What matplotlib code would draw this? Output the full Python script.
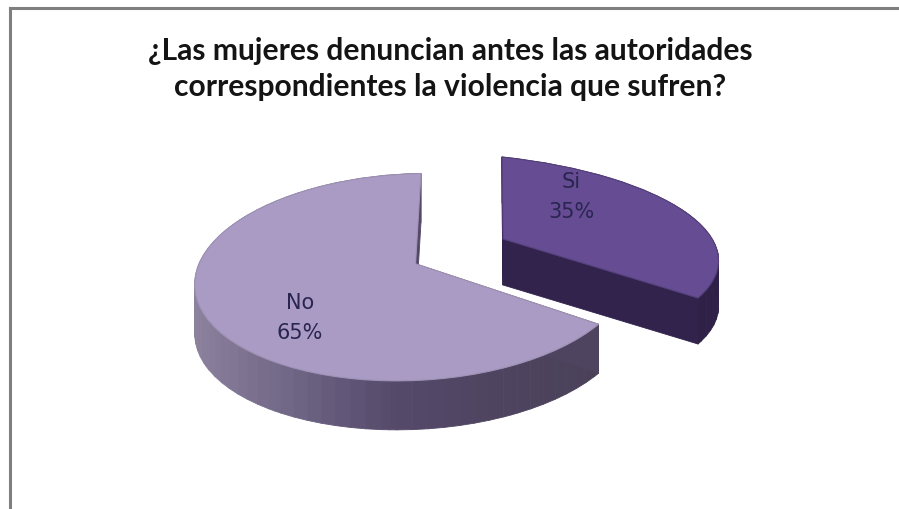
import matplotlib
matplotlib.use("Agg")
import matplotlib.pyplot as plt
from matplotlib.collections import PolyCollection
from matplotlib.colors import LinearSegmentedColormap
from matplotlib.transforms import Transform
import numpy as np

title = "¿Las mujeres denuncian antes las autoridades\ncorrespondientes la violencia que sufren?"
categories = ["Si", "No"]
values = [35, 65]


class Tilt(Transform):
    # pie disc -> picture pixels, through a homography
    input_dims = output_dims = 2

    def __init__(self, src, dst):
        super().__init__()
        rows, rhs = [], []
        for (x, y), (u, v) in zip(src, dst):
            rows.append([x, y, 1, 0, 0, 0, -u * x, -u * y])
            rows.append([0, 0, 0, x, y, 1, -v * x, -v * y])
            rhs += [u, v]
        sol = np.linalg.lstsq(np.array(rows, float), np.array(rhs, float), rcond=None)[0]
        self.h = np.append(sol, 1).reshape(3, 3)

    def transform_non_affine(self, pts):
        p = np.c_[pts, np.ones(len(pts))] @ self.h.T
        return p[:, :2] / p[:, 2:]


corner = (np.cos(np.radians(-36)), np.sin(np.radians(-36)))
tilt_si = Tilt([(0, 0), (0, 1), corner, (1, 0)],
               [(503, 240), (502, 158), (698, 299), (716, 248)])
# centre listed three times so the apex stays where it is in the picture
tilt_no = Tilt([(0, 0), (0, 0), (0, 0), (0, 1), (0, -1), corner, (-1, 0)],
               [(418, 263), (418, 263), (418, 263), (418, 175), (405, 380), (598, 329), (197, 272)])

fig = plt.figure(figsize=(8.99, 5.10), dpi=100, facecolor="white")
ax = fig.add_axes([0, 0, 1, 1])

wedges, _ = ax.pie(values, startangle=90, counterclock=False, colors=["#664c93", "#a99bc4"])
ax.set_aspect("auto")
ax.set_xlim(0, 899)
ax.set_ylim(510, 0)
ax.axis("off")

side_si = LinearSegmentedColormap.from_list("si", ["#2c1f45", "#33234e", "#2e2046"])
side_no = LinearSegmentedColormap.from_list("no", ["#8c829e", "#6e6484", "#55496a", "#4e4460", "#4a4159"])
rims = ["#54407c", "#9d92b4"]

for w, tilt, depth, cmap, zo, rim in [(wedges[1], tilt_no, 49, side_no, 2, rims[1]),
                                      (wedges[0], tilt_si, 46, side_si, 4, rims[0])]:
    w.set_transform(tilt + ax.transData)
    w.set_zorder(zo + 1)
    w.set_edgecolor(rim)
    w.set_linewidth(0.8)
    # flatten the wedge outline in pixels, then extrude it downwards
    verts = tilt.transform_path(w.get_path()).to_polygons(closed_only=False)[0]
    quads = [[a, b, b + [0, depth], a + [0, depth]] for a, b in zip(verts[:-1], verts[1:])]
    mids = (verts[:-1, 0] + verts[1:, 0]) / 2
    shade = (mids - mids.min()) / (mids.max() - mids.min())
    pc = PolyCollection(quads, array=shade, cmap=cmap, edgecolors="face", linewidths=0.6, zorder=zo)
    ax.add_collection(pc)

# frame of the chart area
ax.plot([10, 10], [510, 9], color="#7f7f7f", lw=2.2, solid_capstyle="projecting")
ax.plot([10, 899], [9, 9], color="#7f7f7f", lw=2.2, solid_capstyle="projecting")

ax.text(450, 69, title, ha="center", va="center", fontsize=21.6, fontweight="bold",
        family="Lato", color="#141414", linespacing=1.32)

label_pos = [(571, 197), (300, 318)]
for name, val, (x, y) in zip(categories, values, label_pos):
    ax.text(x, y, f"{name}\n{val}%", ha="center", va="center", fontsize=15,
            color="#2a2550", linespacing=1.6, zorder=8)

fig.savefig("out.png", dpi=100)
